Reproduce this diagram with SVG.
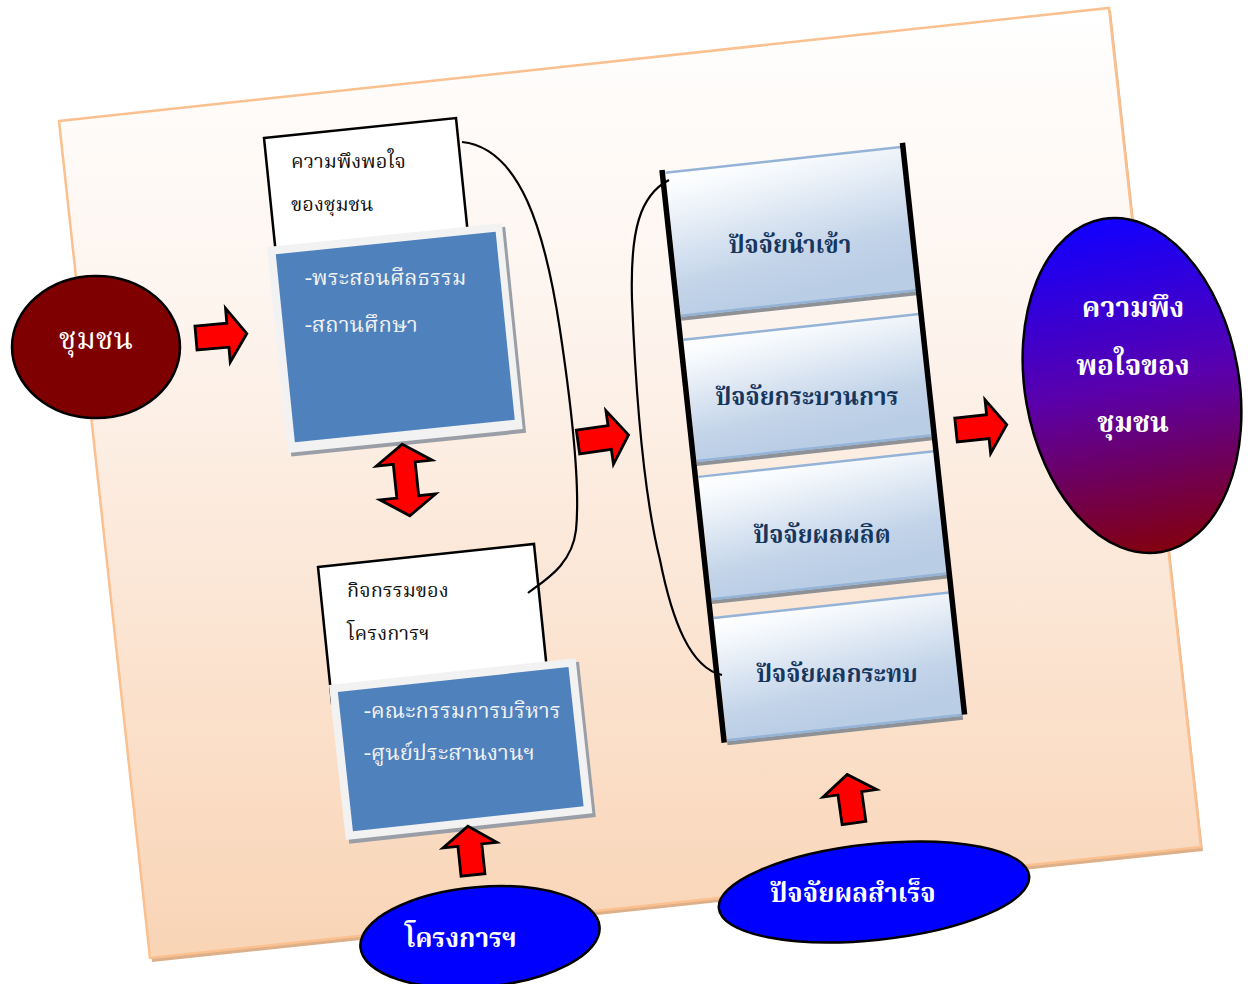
<svg xmlns="http://www.w3.org/2000/svg" width="1251" height="984" viewBox="0 0 1251 984">
<defs>
<linearGradient id="bg" x1="0" y1="0" x2="0" y2="1">
<stop offset="0" stop-color="#FFFFFF"/>
<stop offset="0.35" stop-color="#FDF3EC"/>
<stop offset="1" stop-color="#F9D4B5"/>
</linearGradient>
<linearGradient id="panel" x1="0" y1="0" x2="0.25" y2="1">
<stop offset="0" stop-color="#FFFFFF"/>
<stop offset="0.15" stop-color="#F7FAFD"/>
<stop offset="0.75" stop-color="#C3D4E9"/>
<stop offset="1" stop-color="#B9CDE5"/>
</linearGradient>
<linearGradient id="sat" gradientUnits="userSpaceOnUse" x1="0" y1="218" x2="0" y2="553">
<stop offset="0" stop-color="#1200FF"/>
<stop offset="0.5" stop-color="#5A00AC"/>
<stop offset="1" stop-color="#820010"/>
</linearGradient>
<path id="rarrow" d="M0,-12 H32 V-27 L51,0 L32,27 V12 H0 Z"/>
<path id="uarrow" d="M-12,0 V-30 H-27 L0,-49 L27,-30 H12 V0 Z"/>
</defs>
<style>
.arrow{fill:#FF0000;stroke:#000;stroke-width:2.8;stroke-linejoin:miter}
.wbox{fill:#FFFFFF;stroke:#000;stroke-width:2.5}
.frame{fill:#F2F2F2}
.fshadow{fill:#9A9EA6}
.blue{fill:#4F81BD}
.t{font-family:'Noto Serif Thai','Noto Sans Thai','Liberation Serif',serif}
.dark{fill:#111111;font-size:20px}
.light{fill:#F2F2F2;font-size:22px}
.pt{fill:#17365D;font-size:24px;font-weight:bold;text-anchor:middle}
.wt{fill:#FFFFFF;font-weight:bold;text-anchor:middle}
.pline{stroke:#95B3D7;stroke-width:2.5}
.pshadow{fill:#8E9196}
.bar{stroke:#000;stroke-width:5.5}
.conn{fill:none;stroke:#000;stroke-width:2.2}
</style>

<g id="background">
<polygon points="61,124 1111,11 1203,851 152,962" fill="#DDB08A"/>
<polygon points="59,121 1109,8 1201,847 150,958" fill="url(#bg)" stroke="#FBC08F" stroke-width="2.5"/>
</g>

<g id="node-community">
<ellipse cx="96" cy="347" rx="84" ry="71" fill="#7F0000" stroke="#000" stroke-width="2.5"/>
<text class="t" x="96" y="349" fill="#FFFFFF" font-size="30" text-anchor="middle">ชุมชน</text>
</g>

<g id="node-satisfaction-box">
<polygon class="wbox" points="264,138 456,118 468,235 276,255" />
<text class="t dark" x="291" y="168">ความพึงพอใจ</text>
<text class="t dark" x="291" y="211">ของชุมชน</text>
</g>

<g id="node-satisfaction-list">
<g transform="translate(267,247) rotate(-5.8)">
<rect class="fshadow" x="3" y="4" width="236" height="207"/>
<rect class="frame" x="0" y="0" width="236" height="207"/>
<rect class="blue" x="8" y="8" width="221" height="189"/>
</g>
<text class="t light" x="305" y="285">-พระสอนศีลธรรม</text>
<text class="t light" x="305" y="332">-สถานศึกษา</text>
</g>

<g id="node-activity-box">
<polygon class="wbox" points="318,567 534,544 548,680 332,703"/>
<text class="t dark" x="347" y="597">กิจกรรมของ</text>
<text class="t dark" x="347" y="640">โครงการฯ</text>
</g>

<g id="node-activity-list">
<g transform="translate(329,685) rotate(-6.2)">
<rect class="fshadow" x="3" y="4" width="248" height="156"/>
<rect class="frame" x="0" y="0" width="248" height="156"/>
<rect class="blue" x="8" y="8" width="232" height="140"/>
</g>
<text class="t light" x="364" y="718">-คณะกรรมการบริหาร</text>
<text class="t light" x="364" y="760">-ศูนย์ประสานงานฯ</text>
</g>

<g id="node-factors">
<g transform="translate(662,170) rotate(-6.2)">
<g id="panel-input">
<rect x="3" y="3" width="237" height="145" fill="url(#panel)"/>
<rect class="pshadow" x="3" y="148" width="237" height="4"/>
<line class="pline" x1="3" y1="3" x2="240" y2="3"/>
<line class="pline" x1="3" y1="147" x2="240" y2="147"/>
</g>
<g id="panel-process">
<rect x="3" y="171" width="237" height="123" fill="url(#panel)"/>
<rect class="pshadow" x="3" y="294" width="237" height="4"/>
<line class="pline" x1="3" y1="171" x2="240" y2="171"/>
<line class="pline" x1="3" y1="293" x2="240" y2="293"/>
</g>
<g id="panel-output">
<rect x="3" y="309" width="237" height="124" fill="url(#panel)"/>
<rect class="pshadow" x="3" y="433" width="237" height="4"/>
<line class="pline" x1="3" y1="309" x2="240" y2="309"/>
<line class="pline" x1="3" y1="432" x2="240" y2="432"/>
</g>
<g id="panel-impact">
<rect x="3" y="451" width="237" height="124" fill="url(#panel)"/>
<rect class="pshadow" x="3" y="575" width="237" height="4"/>
<line class="pline" x1="3" y1="451" x2="240" y2="451"/>
<line class="pline" x1="3" y1="574" x2="240" y2="574"/>
</g>
<line class="bar" x1="0" y1="0" x2="0" y2="576"/>
<line class="bar" x1="242" y1="-1" x2="242" y2="574"/>
</g>
<text class="t pt" x="790" y="253">ปัจจัยนำเข้า</text>
<text class="t pt" x="807" y="405">ปัจจัยกระบวนการ</text>
<text class="t pt" x="822" y="543">ปัจจัยผลผลิต</text>
<text class="t pt" x="837" y="682">ปัจจัยผลกระทบ</text>
</g>

<g id="node-result">
<ellipse cx="1132" cy="385.5" rx="107" ry="169" transform="rotate(-10 1132 385.5)" fill="url(#sat)" stroke="#000" stroke-width="2.5"/>
<text class="t wt" x="1133" y="317" font-size="28">ความพึง</text>
<text class="t wt" x="1133" y="375" font-size="28">พอใจของ</text>
<text class="t wt" x="1133" y="432" font-size="28">ชุมชน</text>
</g>

<g id="node-project">
<ellipse cx="480" cy="937" rx="120" ry="50" transform="rotate(-5 480 937)" fill="#0000FF" stroke="#000" stroke-width="2.5"/>
<text class="t wt" x="461" y="947" font-size="26">โครงการฯ</text>
</g>

<g id="node-success">
<ellipse cx="874" cy="892" rx="156" ry="48" transform="rotate(-6 874 892)" fill="#0000FF" stroke="#000" stroke-width="2.5"/>
<text class="t wt" x="853" y="902" font-size="26">ปัจจัยผลสำเร็จ</text>
</g>

<g id="connectors">
<use href="#rarrow" class="arrow" transform="translate(196,338) rotate(-5)"/>
<use href="#rarrow" class="arrow" transform="translate(578,442) rotate(-8)"/>
<use href="#rarrow" class="arrow" transform="translate(956,430) rotate(-6)"/>
<use href="#uarrow" class="arrow" transform="translate(473,875) rotate(-6)"/>
<use href="#uarrow" class="arrow" transform="translate(854,823) rotate(-8)"/>
<path class="arrow" transform="translate(406,480) rotate(-6)" d="M0,-36 L28,-17 H11 V17 H28 L0,36 L-28,17 H-11 V-17 H-28 Z"/>
<path class="conn" d="M462,142 C520,148 545,230 560,330 C572,410 580,490 576,530 C572,565 545,580 528,593"/>
<path class="conn" d="M669,180 C640,195 630,230 632,300 C636,400 645,500 660,560 C672,620 690,668 722,675"/>
</g>
</svg>
